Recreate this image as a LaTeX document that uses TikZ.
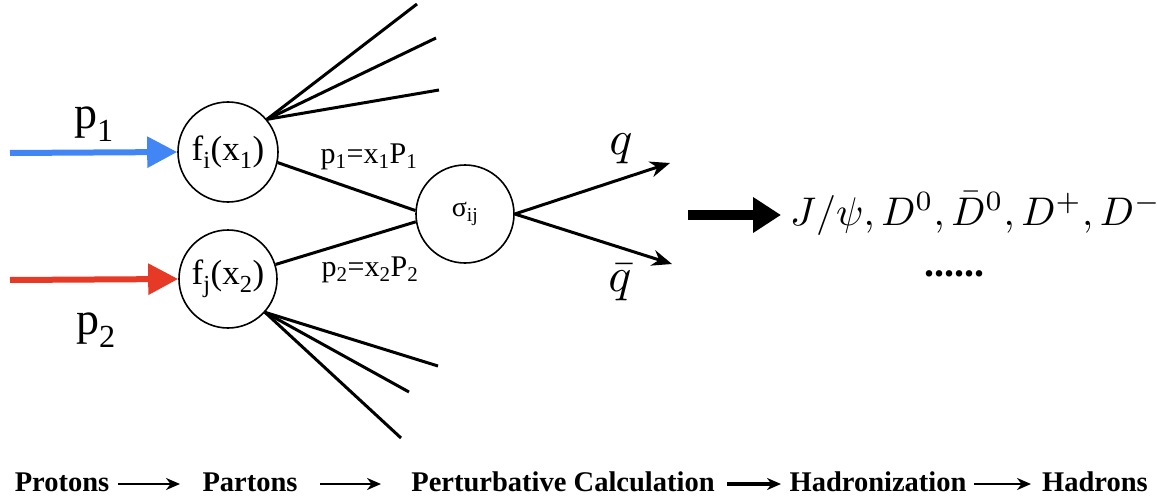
\documentclass[tikz,border=0pt]{standalone}
\usepackage{graphicx}
\usepackage{fontspec}
\setmainfont{Liberation Serif}
\usetikzlibrary{arrows.meta}
\newcommand\mysb[1]{\textsubscript{#1}}
\tikzset{
  circ/.style={draw, circle, line width=1.6pt, inner sep=0pt},
  fan/.style={line width=3pt},
  link/.style={line width=3pt},
  inarrow/.style={line width=6pt, -{Triangle[length=30pt,width=30pt]}},
  qarrow/.style={line width=3pt, -{Stealth[length=20pt,width=16pt]}},
  bigarrow/.style={line width=10pt, -{Triangle[length=28pt,width=34pt]}},
  flowarrow/.style={line width=2.5pt, -{Stealth[length=14pt,width=12pt]}},
  lbl/.style={inner sep=0pt, font=\fontsize{30}{34}\selectfont},
  mth/.style={inner sep=0pt, font=\normalsize},
  flow/.style={inner sep=0pt, anchor=base, font=\fontsize{28.5}{32}\selectfont\bfseries},
}
\begin{document}
\begin{tikzpicture}[x=1pt,y=-1pt]
\useasboundingbox (0,0) rectangle (1157,503);
% circles
\node[circ, minimum size=100pt, font=\fontsize{35}{38}\selectfont] (fi) at (228,152) {f\mysb{i}(x\mysb{1})};
\node[circ, minimum size=98pt, font=\fontsize{35}{38}\selectfont] (fj) at (228,279) {f\mysb{j}(x\mysb{2})};
\node[circ, minimum size=98pt, font=\fontsize{28}{30}\selectfont] (sig) at (465,214) {σ\mysb{ij}};
% incoming arrows
\coordinate (b0) at (10,153);
\coordinate (r0) at (10,280);
\draw[inarrow, color={rgb,255:red,66;green,133;blue,244}] (b0) -- (fi.west);
\draw[inarrow, color={rgb,255:red,230;green,57;blue,38}] (r0) -- (fj.west);
\node[lbl, font=\fontsize{46}{50}\selectfont] (p1) at (94,124) {p\mysb{1}};
\node[lbl, font=\fontsize{46}{50}\selectfont] (p2) at (96,330) {p\mysb{2}};
% upper fan
\coordinate (u1) at (417,4);
\coordinate (u2) at (436,38);
\coordinate (u3) at (439,90);
\draw[fan] (fi.40) -- (u1);
\draw[fan] (fi.40) -- (u2);
\draw[fan] (fi.40) -- (u3);
% lower fan
\coordinate (d1) at (438,366);
\coordinate (d2) at (409,392);
\coordinate (d3) at (401,438);
\draw[fan] (fj.-42) -- (d1);
\draw[fan] (fj.-42) -- (d2);
\draw[fan] (fj.-42) -- (d3);
% partons to sigma
\draw[link] (fi.-12) -- (sig.176);
\draw[link] (fj.17) -- (sig.189);
\node[lbl] (l1) at (369,157) {p\mysb{1}=x\mysb{1}P\mysb{1}};
\node[lbl] (l2) at (370,270) {p\mysb{2}=x\mysb{2}P\mysb{2}};
% outgoing quarks
\coordinate (qe) at (670,163);
\coordinate (qbe) at (672,264);
\draw[qarrow] (sig.east) -- (qe);
\draw[qarrow] (sig.east) -- (qbe);
\node[mth] (q) at (621,149) {\scalebox{4.8}{$q$}};
\node[mth] (qb) at (620,283) {\scalebox{4.8}{$\bar{q}$}};
% hadronization arrow
\coordinate (h0) at (688,215);
\node[mth, anchor=base west] (had) at (790,225) {\scalebox{4.0}{$J/\psi, D^0, \bar{D}^0, D^+, D^-$}};
\coordinate (h1) at (781,215);
\draw[bigarrow] (h0) -- (h1);
\node[inner sep=0pt, anchor=base, font=\fontsize{40}{44}\selectfont\bfseries] (dots) at (954,276) {......};
% bottom flow
\node[flow] (s1) at (62,491) {Protons};
\node[flow] (s2) at (250,491) {Partons};
\node[flow] (s3) at (563,491) {Perturbative Calculation};
\node[flow] (s4) at (878,491) {Hadronization};
\node[flow] (s5) at (1095,491) {Hadrons};
\coordinate (a1s) at (118,484); \coordinate (a1e) at (180,484);
\coordinate (a2s) at (320,484); \coordinate (a2e) at (381,484);
\coordinate (a3s) at (727,484); \coordinate (a3e) at (781,484);
\coordinate (a4s) at (974,484); \coordinate (a4e) at (1031,484);
\draw[flowarrow] (a1s) -- (a1e);
\draw[flowarrow] (a2s) -- (a2e);
\draw[flowarrow, line width=4pt] (a3s) -- (a3e);
\draw[flowarrow] (a4s) -- (a4e);
\end{tikzpicture}
\end{document}
